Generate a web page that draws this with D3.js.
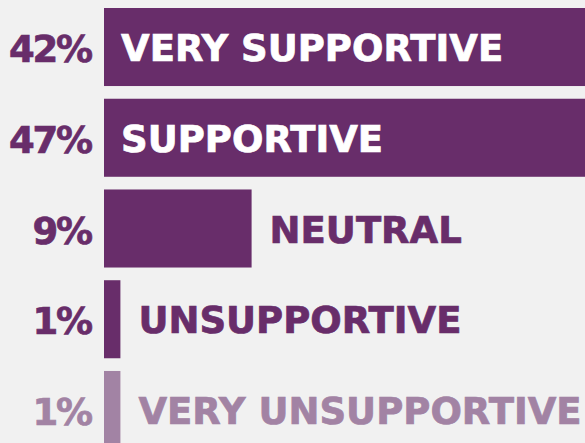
<!DOCTYPE html>
<html>
<head>
<meta charset="utf-8">
<script src="https://cdn.jsdelivr.net/npm/d3@7"></script>
<style>
  html, body { margin: 0; padding: 0; background: #f1f1f1; overflow: hidden; }
  text { font-family: "DejaVu Sans", sans-serif; font-weight: bold; }
</style>
</head>
<body>
<div id="chart"></div>
<script>
var categories = ["VERY SUPPORTIVE", "SUPPORTIVE", "NEUTRAL", "UNSUPPORTIVE", "VERY UNSUPPORTIVE"];
var values = [42, 47, 9, 1, 1];
var valueLabels = ["42%", "47%", "9%", "1%", "1%"];

var width = 585, height = 443;
var dark = '#682d6a', light = '#a283a4';

var svg = d3.select('#chart')
    .append('svg')
    .attr('width', width)
    .attr('height', height);

svg.append('rect')
    .attr('width', width)
    .attr('height', height)
    .style('fill', '#f1f1f1');

// 1% is roughly 16.4px, so the big bars run off the right edge
var x = d3.scaleLinear().domain([0, 10]).range([104, 268]);
var y = d3.scaleBand()
    .domain(categories)
    .range([8, 449])
    .paddingInner(0.14)
    .paddingOuter(0);

function colour(i) {
    return i === categories.length - 1 ? light : dark;
}

var rows = svg.selectAll('.row')
    .data(categories)
    .enter()
    .append('g')
    .attr('class', 'row');

rows.append('rect')
    .attr('x', x(0))
    .attr('y', function (d) { return y(d); })
    .attr('height', y.bandwidth())
    .attr('width', function (d, i) { return x(values[i]) - x(0); })
    .style('fill', function (d, i) { return colour(i); });

// percent labels on the left
rows.append('text')
    .attr('x', 91)
    .attr('y', function (d) { return y(d) + y.bandwidth() / 2 + 15; })
    .attr('text-anchor', 'end')
    .style('font-size', '37px')
    .style('letter-spacing', '-2.2px')
    .style('fill', function (d, i) { return colour(i); })
    .style('stroke', function (d, i) { return colour(i); })
    .style('stroke-width', 0.7)
    .text(function (d, i) { return valueLabels[i]; });

// category labels: inside wide bars, after the end of narrow ones
rows.append('text')
    .attr('x', function (d, i) {
        return values[i] > 20 ? x(0) + 17 : x(values[i]) + 18;
    })
    .attr('y', function (d) { return y(d) + y.bandwidth() / 2 + 14; })
    .style('font-size', '37px')
    .style('letter-spacing', '0px')
    .style('fill', function (d, i) { return values[i] > 20 ? '#ffffff' : colour(i); })
    .style('stroke', function (d, i) { return values[i] > 20 ? '#ffffff' : colour(i); })
    .style('stroke-width', 0.7)
    .text(function (d) { return d; });
</script>
</body>
</html>
